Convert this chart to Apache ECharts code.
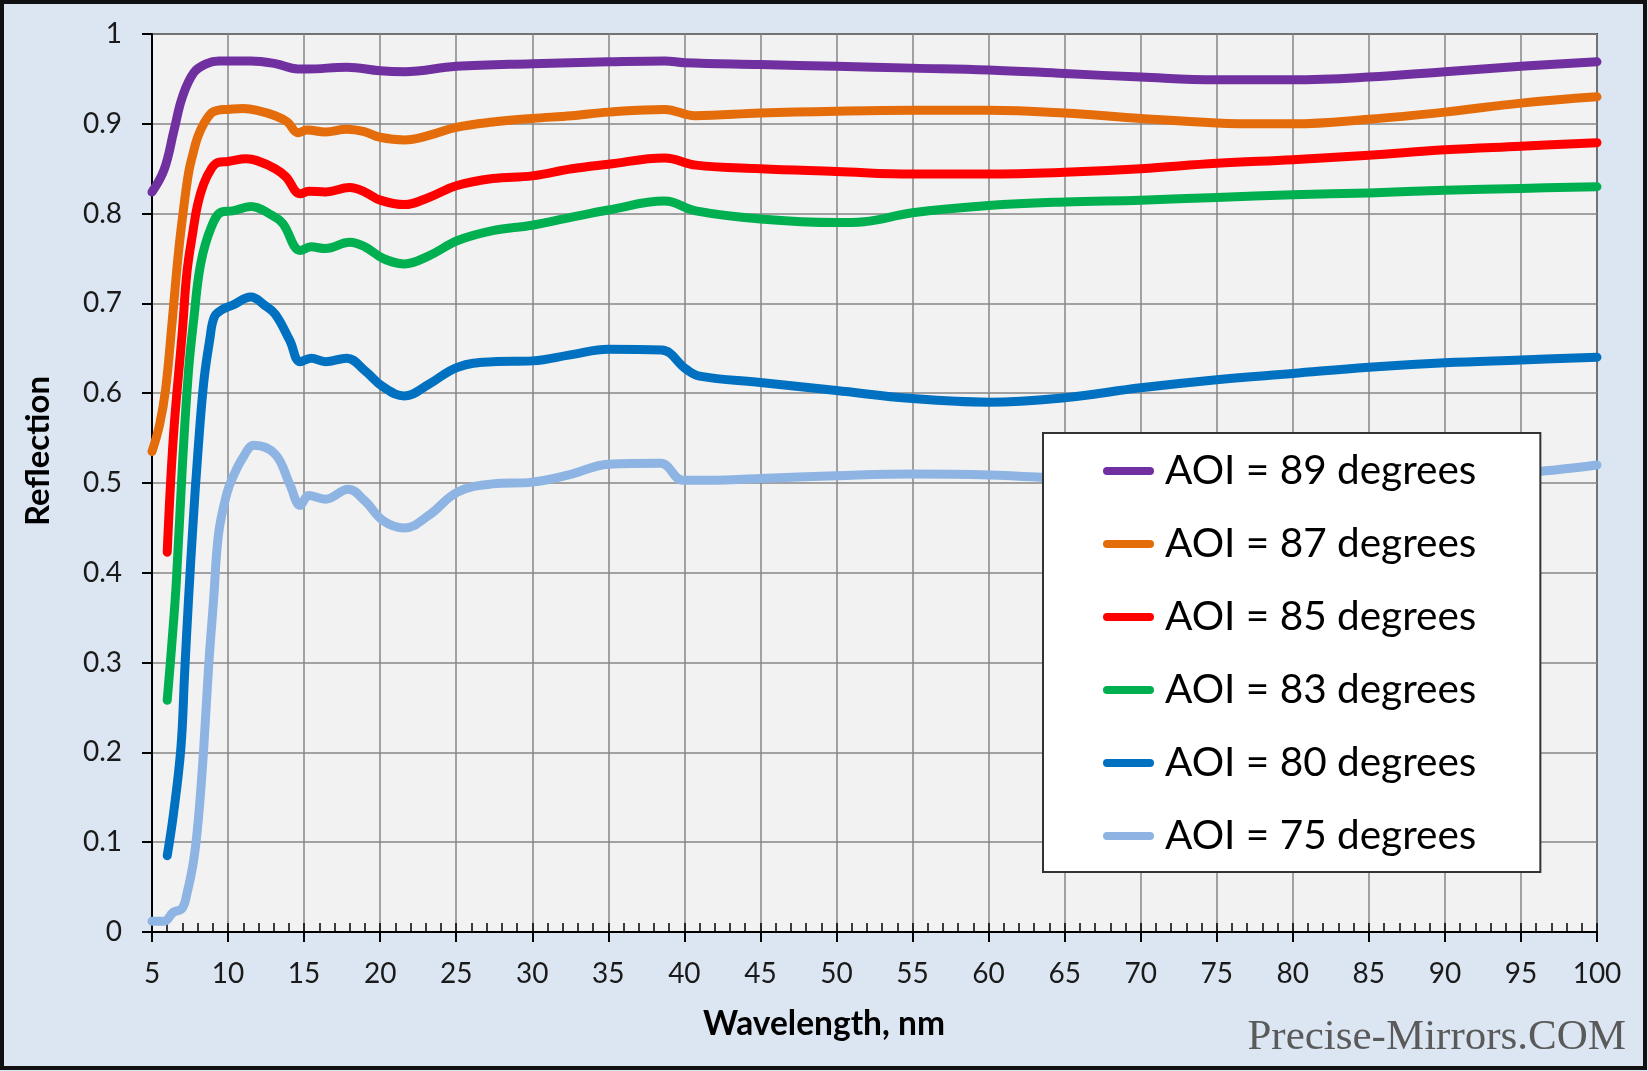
<!DOCTYPE html>
<html>
<head>
<meta charset="utf-8">
<script src="https://cdn.jsdelivr.net/npm/echarts@6/dist/echarts.min.js"></script>
<style>
  html, body { margin: 0; padding: 0; background: #DCE6F2; }
  #chart { width: 1648px; height: 1071px; }
</style>
</head>
<body>
<div id="chart"></div>
<script>
// ---- data (wavelength nm, reflection) ----
const seriesNames = ['AOI = 89 degrees', 'AOI = 87 degrees', 'AOI = 85 degrees', 'AOI = 83 degrees', 'AOI = 80 degrees', 'AOI = 75 degrees'];
const seriesColors = ['#7030A0', '#E46C0A', '#FF0000', '#00B050', '#0070C0', '#8DB4E2'];

const wl89 = [5, 5.8, 6.45, 7.0, 7.75, 8.6, 9.4, 10, 11.5, 13.1, 14.6, 15.2, 17.8, 20, 21.6, 25, 30, 35, 38.7, 40, 45, 50, 55, 60, 65, 70, 75, 78, 80, 85, 90, 95, 100];
const r89  = [0.824, 0.849, 0.893, 0.930, 0.957, 0.967, 0.970, 0.970, 0.970, 0.967, 0.961, 0.961, 0.963, 0.959, 0.958, 0.964, 0.967, 0.969, 0.970, 0.968, 0.966, 0.964, 0.962, 0.960, 0.956, 0.952, 0.949, 0.949, 0.949, 0.952, 0.958, 0.964, 0.969];

const wl87 = [5, 5.5, 5.9, 6.3, 6.7, 7.0, 7.4, 7.7, 8.0, 8.4, 8.9, 9.3, 10, 11, 11.9, 13.1, 13.9, 14.6, 15.2, 16.4, 17.8, 19, 20, 21.6, 23.2, 25, 27.4, 30, 32.6, 35, 38.7, 40.7, 45, 50, 55, 60, 65, 70, 75, 78, 80, 85, 90, 95, 100];
const r87  = [0.535, 0.565, 0.605, 0.675, 0.750, 0.795, 0.845, 0.867, 0.885, 0.900, 0.912, 0.915, 0.916, 0.917, 0.915, 0.909, 0.902, 0.890, 0.893, 0.891, 0.894, 0.891, 0.885, 0.882, 0.887, 0.896, 0.902, 0.906, 0.909, 0.913, 0.916, 0.909, 0.912, 0.914, 0.915, 0.915, 0.912, 0.906, 0.901, 0.900, 0.900, 0.905, 0.913, 0.923, 0.930];

const wl85 = [6.0, 6.4, 7.0, 7.3, 7.7, 8.0, 8.4, 8.9, 9.35, 10, 11.2, 11.9, 13.1, 13.8, 14.75, 15.3, 16.4, 18, 19, 20, 21.6, 23.2, 25, 27.4, 30, 32.6, 35, 38.7, 40.75, 45, 50, 55, 60, 65, 70, 75, 80, 85, 90, 95, 100];
const r85  = [0.423, 0.550, 0.670, 0.735, 0.781, 0.810, 0.833, 0.850, 0.857, 0.858, 0.861, 0.859, 0.850, 0.841, 0.822, 0.825, 0.824, 0.829, 0.824, 0.815, 0.810, 0.818, 0.831, 0.839, 0.842, 0.850, 0.855, 0.862, 0.854, 0.850, 0.847, 0.844, 0.844, 0.846, 0.850, 0.856, 0.860, 0.865, 0.871, 0.875, 0.879];

const wl83 = [6.0, 6.3, 6.6, 7.0, 7.4, 7.75, 8.2, 8.9, 9.6, 10.3, 11.5, 12.9, 13.6, 14.75, 15.45, 16.4, 18, 19, 20.2, 21.6, 23.2, 25.1, 27.4, 30, 32.6, 35, 38.7, 40.75, 45, 50, 51.8, 55, 60, 65, 70, 75, 80, 85, 90, 95, 100];
const r83  = [0.258, 0.320, 0.390, 0.520, 0.625, 0.683, 0.744, 0.785, 0.802, 0.803, 0.808, 0.798, 0.789, 0.759, 0.763, 0.761, 0.768, 0.763, 0.750, 0.744, 0.753, 0.770, 0.781, 0.787, 0.796, 0.804, 0.814, 0.803, 0.794, 0.790, 0.791, 0.801, 0.809, 0.813, 0.815, 0.818, 0.821, 0.823, 0.826, 0.828, 0.830];

const wl80 = [6.0, 6.4, 6.9, 7.15, 7.4, 7.7, 8.0, 8.4, 8.8, 9.1, 9.6, 10.3, 11.5, 12.4, 13.1, 14.05, 14.75, 15.45, 16.4, 17.8, 19, 20.2, 21.6, 23.2, 25.1, 27.4, 30, 32.6, 35, 38.5, 40.1, 41, 45, 50, 55, 60, 65, 70, 75, 80, 85, 90, 95, 100];
const r80  = [0.085, 0.130, 0.205, 0.290, 0.370, 0.455, 0.530, 0.612, 0.660, 0.685, 0.693, 0.698, 0.707, 0.698, 0.688, 0.659, 0.635, 0.639, 0.635, 0.639, 0.625, 0.607, 0.597, 0.610, 0.629, 0.635, 0.636, 0.643, 0.649, 0.648, 0.627, 0.619, 0.612, 0.603, 0.594, 0.590, 0.595, 0.606, 0.615, 0.622, 0.629, 0.634, 0.637, 0.640];

const wl75 = [5, 5.8, 6.4, 6.97, 7.3, 7.74, 8.06, 8.39, 8.72, 9.05, 9.38, 9.93, 10.3, 11.0, 11.7, 13.1, 14.05, 14.75, 15.3, 16.4, 17.9, 19, 20.2, 21.6, 23.2, 25.1, 27.4, 30, 32.6, 35, 38.45, 39.9, 41.7, 45, 50, 55, 60, 65, 70, 75, 80, 85, 90, 95, 100];
const r75  = [0.012, 0.012, 0.022, 0.026, 0.043, 0.080, 0.128, 0.202, 0.295, 0.370, 0.444, 0.489, 0.506, 0.529, 0.542, 0.532, 0.499, 0.475, 0.486, 0.482, 0.493, 0.480, 0.458, 0.450, 0.464, 0.490, 0.499, 0.501, 0.510, 0.521, 0.522, 0.503, 0.503, 0.505, 0.508, 0.510, 0.509, 0.505, 0.501, 0.499, 0.500, 0.503, 0.507, 0.511, 0.520];

const xTicks = { min: 5, max: 100, interval: 5 };
const yTicks = { min: 0, max: 1, interval: 0.1 };

const wls = [wl89, wl87, wl85, wl83, wl80, wl75];
const rs  = [r89, r87, r85, r83, r80, r75];

const chart = echarts.init(document.getElementById('chart'), null, { renderer: 'canvas' });

const series = seriesNames.map((name, k) => ({
  name: name,
  type: 'line',
  xAxisIndex: 0,
  yAxisIndex: 0,
  data: wls[k].map((x, i) => [x, rs[k][i]]),
  showSymbol: false,
  symbol: 'none',
  smooth: 0.4,
  color: seriesColors[k],
  lineStyle: { width: 9, color: seriesColors[k], cap: 'round', join: 'round' },
  emphasis: { disabled: true },
  z: 3
}));

const option = {
  animation: false,
  backgroundColor: '#DCE6F2',
  textStyle: { fontFamily: 'Lato' },
  grid: {
    left: 152, right: 51, top: 34, bottom: 139,
    show: true, backgroundColor: '#F2F2F2', borderColor: '#3a3a3a', borderWidth: 2
  },
  xAxis: [
    {
      type: 'value', position: 'bottom',
      min: xTicks.min, max: xTicks.max, interval: xTicks.interval,
      axisLine: { show: true, onZero: false, lineStyle: { color: '#000', width: 2 } },
      axisTick: { show: true, inside: false, length: 10, lineStyle: { color: '#000', width: 2 } },
      axisLabel: { show: true, margin: 28, fontSize: 28, fontFamily: 'Lato', color: '#1a1a1a' },
      splitLine: { show: true, lineStyle: { color: '#868686', width: 1.5 } }
    },
    {
      type: 'value', position: 'bottom',
      min: xTicks.min, max: xTicks.max, interval: 1,
      axisLine: { show: false, onZero: false },
      axisTick: { show: true, inside: true, length: 9, lineStyle: { color: '#000', width: 1.5 } },
      axisLabel: { show: false },
      splitLine: { show: false }
    }
  ],
  yAxis: {
    type: 'value',
    min: yTicks.min, max: yTicks.max, interval: yTicks.interval,
    axisLine: { show: true, onZero: false, lineStyle: { color: '#000', width: 2 } },
    axisTick: { show: true, inside: false, length: 10, lineStyle: { color: '#000', width: 2 } },
    axisLabel: {
      margin: 30, fontSize: 28, fontFamily: 'Lato', color: '#1a1a1a',
      formatter: v => String(+v.toFixed(1))
    },
    splitLine: { show: true, lineStyle: { color: '#868686', width: 1.5 } }
  },
  legend: {
    show: true,
    orient: 'vertical',
    left: 1043, top: 433,
    data: seriesNames,
    itemWidth: 51, itemHeight: 8, itemGap: 25,
    icon: 'path://M4,0 L47,0 A4,4 0 0 1 47,8 L4,8 A4,4 0 0 1 4,0 Z',
    padding: [14, 64, 12, 60],
    backgroundColor: '#FFFFFF',
    borderColor: '#333333', borderWidth: 2, borderRadius: 0,
    selectedMode: false,
    textStyle: { fontSize: 40.5, lineHeight: 48, fontFamily: 'Lato', color: '#000', padding: [0, 0, 0, 6] },
    z: 10
  },
  graphic: [
    {
      type: 'text', x: 38, y: 451, rotation: Math.PI / 2,
      style: { text: 'Reflection', font: 'bold 33px Lato', fill: '#000', textAlign: 'center', textVerticalAlign: 'middle' },
      z: 20
    },
    {
      type: 'text', x: 824, y: 1024,
      style: { text: 'Wavelength, nm', font: 'bold 33.5px Lato', fill: '#000', textAlign: 'center', textVerticalAlign: 'middle' },
      z: 20
    },
    {
      type: 'text', x: 1626, y: 1059,
      style: { text: 'Precise-Mirrors.COM', font: '43px "Liberation Serif"', fill: '#5a5a5a', textAlign: 'right', textVerticalAlign: 'bottom' },
      z: 20
    },
    {
      type: 'rect', shape: { x: 2, y: 2, width: 1643, height: 1066 },
      style: { fill: null, stroke: '#111', lineWidth: 4 },
      z: 30
    }
  ],
  series: series
};

chart.setOption(option);
</script>
</body>
</html>
